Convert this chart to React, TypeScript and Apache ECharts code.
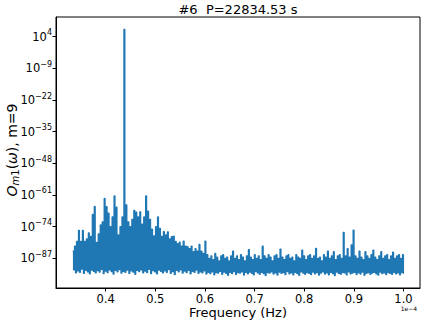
import React, { useEffect, useRef } from 'react';
import * as echarts from 'echarts';

// Frequency grid (units of 1e-4 Hz)
const freqStart = 0.3333;
const freqEnd = 1.0;

// log10 of upper envelope of the periodogram
const upperLog: number[] = [
  -84, -82, -80, -75.5, -80, -75.5, -80, -79, -76.5, -78,
  -69, -65.7, -80.5, -77, -73.3, -72, -62.4, -65.8, -68.4, -74,
  -70, -61.4, -66, -77.4, -74, -70, 7.0, -65, -72, -74,
  -71, -67.3, -68, -70, -67.9, -73, -70, -61.4, -67.6, -71,
  -75, -77.8, -74, -70, -74.7, -78, -76, -77.4, -76.1, -79,
  -78.1, -77.9, -80, -81, -80.4, -82, -79.9, -82, -82.2, -83,
  -82, -84.3, -83, -84, -81.3, -84, -85, -79.9, -85.5, -87,
  -86, -87.5, -85, -86.5, -88, -86, -85.5, -87, -86.5, -88,
  -86, -84, -87, -86, -87.5, -85.5, -86.5, -88, -86, -83.4,
  -86.5, -87.5, -85.5, -87, -86, -87.5, -82, -86, -87, -85.5,
  -86.5, -88, -86, -85.5, -87, -83.2, -86.5, -87.5, -86, -85.5,
  -87, -86.5, -88, -85.5, -86.5, -87, -83.6, -86, -87.5, -86,
  -85.5, -87, -86, -82.9, -87, -86.5, -88, -85.5, -86.5, -84,
  -87, -86, -84.3, -87.5, -86, -85.5, -87, -76.3, -86, -83,
  -86.5, -81.5, -75.4, -86, -87, -84, -86.5, -87.5, -84.3, -86,
  -87, -85.5, -83.6, -86.5, -87.5, -86, -84.3, -87, -86, -85.5,
  -87.5, -86, -84.5, -87, -86, -85.5, -87, -85.5,
];

// log10 of lower envelope of the periodogram
const lowerLog: number[] = [
  -91.8, -93.0, -92.2, -92.8, -91.5, -93.2, -92.0, -92.6, -93.4, -91.9,
  -92.4, -93.0, -92.1, -92.7, -91.6, -93.3, -92.3, -92.9, -91.8, -92.5,
  -93.5, -92.0, -92.6, -91.7, -93.1, -92.4, -92.8, -91.9, -93.2, -92.2,
  -92.7, -93.6, -92.0, -92.5, -91.8, -93.0, -92.3, -92.9, -91.6, -93.3,
  -92.1, -92.6, -93.4, -91.9, -92.4, -93.0, -92.2, -92.8, -91.7, -93.2,
  -92.5, -93.7, -92.0, -92.6, -91.8, -93.1, -92.3, -92.9, -92.0, -93.4,
  -92.4, -92.8, -91.9, -93.2, -92.6, -93.0, -92.2, -93.5, -92.8, -93.3,
  -92.6, -93.8, -92.9, -93.1, -92.4, -93.6, -92.7, -93.2, -94.0, -92.8,
  -93.3, -92.5, -93.7, -92.9, -93.1, -92.6, -93.9, -92.8, -93.4, -92.7,
  -93.2, -93.8, -92.5, -93.0, -93.6, -92.8, -93.3, -94.1, -92.9, -93.1,
  -92.6, -93.5, -93.0, -93.9, -92.7, -93.2, -92.9, -93.7, -92.5, -93.4,
  -93.0, -93.8, -92.8, -93.3, -94.0, -92.6, -93.1, -93.6, -92.9, -93.2,
  -93.7, -92.7, -93.4, -92.9, -93.9, -93.1, -92.6, -93.5, -93.0, -93.8,
  -92.8, -93.3, -94.1, -92.7, -93.2, -93.6, -92.9, -93.0, -93.8, -92.6,
  -93.4, -93.1, -92.8, -93.7, -93.0, -93.5, -92.7, -94.0, -93.2, -92.9,
  -93.6, -93.1, -92.8, -93.4, -93.9, -92.7, -93.3, -93.0, -93.7, -92.9,
  -93.2, -93.6, -92.8, -93.4, -93.0, -93.8, -92.9, -93.3,
];

const yTickExps = [-87, -74, -61, -48, -35, -22, -9, 4];
const xTicks = [0.4, 0.5, 0.6, 0.7, 0.8, 0.9, 1.0];
const titleText = '#6  P=22834.53 s';
const xName = 'Frequency (Hz)';
const offsetText = '1e\u22124';

const FONT = 'DejaVu Sans';

function buildData(): number[][] {
  const n = upperLog.length * 2;
  const step = (freqEnd - freqStart) / (n - 1);
  const pts: number[][] = [];
  for (let i = 0; i < upperLog.length; i++) {
    pts.push([freqStart + 2 * i * step, upperLog[i]]);
    pts.push([freqStart + (2 * i + 1) * step, lowerLog[i]]);
  }
  return pts;
}

export default function App() {
  const ref = useRef<HTMLDivElement>(null);
  useEffect(() => {
    if (!ref.current) return;
    const chart = echarts.init(ref.current, null, { renderer: 'svg' });
    const gridLeft = 56, gridRight = 420, gridTop = 17, gridBottom = 288;
    const cx = (gridLeft + gridRight) / 2;
    chart.setOption({
      animation: false,
      backgroundColor: '#fff',
      grid: {
        left: gridLeft,
        right: 424 - gridRight,
        top: gridTop,
        bottom: 322 - gridBottom,
        show: true,
        borderColor: '#000',
        borderWidth: 1,
      },
      xAxis: {
        type: 'value',
        min: 0.3,
        max: 1.0333,
        axisLine: { show: true, onZero: false, lineStyle: { color: '#000', width: 1 } },
        axisTick: { show: true, customValues: xTicks, length: 3.5, lineStyle: { color: '#000' } },
        axisLabel: {
          customValues: xTicks,
          formatter: (v: number) => v.toFixed(1),
          fontSize: 11.5,
          color: '#000',
          fontFamily: FONT,
          margin: 5,
        },
        splitLine: { show: false },
      },
      yAxis: {
        type: 'value',
        min: -99.2,
        max: 12.1,
        axisLine: { show: true, onZero: false, lineStyle: { color: '#000', width: 1 } },
        axisTick: { show: true, customValues: yTickExps, length: 3.5, lineStyle: { color: '#000' } },
        axisLabel: {
          customValues: yTickExps,
          margin: 4,
          formatter: (v: number) => `{b|10}{s|${v < 0 ? '\u2212' : ''}${Math.abs(v)}}`,
          rich: {
            b: { fontSize: 11.5, fontFamily: FONT, color: '#000', lineHeight: 16, verticalAlign: 'middle' },
            s: { fontSize: 8, fontFamily: FONT, color: '#000', lineHeight: 8, verticalAlign: 'top' },
          },
        },
        splitLine: { show: false },
      },
      series: [
        {
          type: 'line',
          data: buildData(),
          step: 'end',
          symbol: 'none',
          showSymbol: false,
          clip: true,
          lineStyle: { color: '#1f77b4', width: 1.2 },
        },
      ],
      graphic: [
        {
          type: 'text',
          x: cx,
          y: 9,
          style: {
            text: titleText,
            fontSize: 13,
            fontFamily: FONT,
            fill: '#000',
            textAlign: 'center',
            textVerticalAlign: 'middle',
          },
        },
        {
          type: 'text',
          x: cx,
          y: 312.5,
          style: {
            text: xName,
            fontSize: 13,
            fontFamily: FONT,
            fill: '#000',
            textAlign: 'center',
            textVerticalAlign: 'middle',
          },
        },
        {
          type: 'text',
          x: 417,
          y: 308,
          style: {
            text: offsetText,
            fontSize: 6,
            fontFamily: FONT,
            fill: '#000',
            textAlign: 'right',
            textVerticalAlign: 'middle',
          },
        },
        {
          type: 'text',
          x: 12,
          y: 150,
          rotation: Math.PI / 2,
          style: {
            text: '{it|O}{subi|m}{sub|1}{n|(}{it|\u03c9}{n|), m=9}',
            textAlign: 'center',
            textVerticalAlign: 'middle',
            rich: {
              it: { fontSize: 14, fontFamily: FONT, fontStyle: 'italic', fill: '#000', lineHeight: 17, verticalAlign: 'middle' },
              n: { fontSize: 14, fontFamily: FONT, fill: '#000', lineHeight: 17, verticalAlign: 'middle' },
              subi: { fontSize: 10, fontFamily: FONT, fontStyle: 'italic', fill: '#000', lineHeight: 9, verticalAlign: 'bottom' },
              sub: { fontSize: 10, fontFamily: FONT, fill: '#000', lineHeight: 9, verticalAlign: 'bottom' },
            },
          },
        },
      ],
    });
    return () => chart.dispose();
  }, []);
  return (
    <div
      ref={ref}
      style={{ position: 'fixed', left: 0, top: 0, width: 424, height: 322, background: '#fff' }}
    />
  );
}
